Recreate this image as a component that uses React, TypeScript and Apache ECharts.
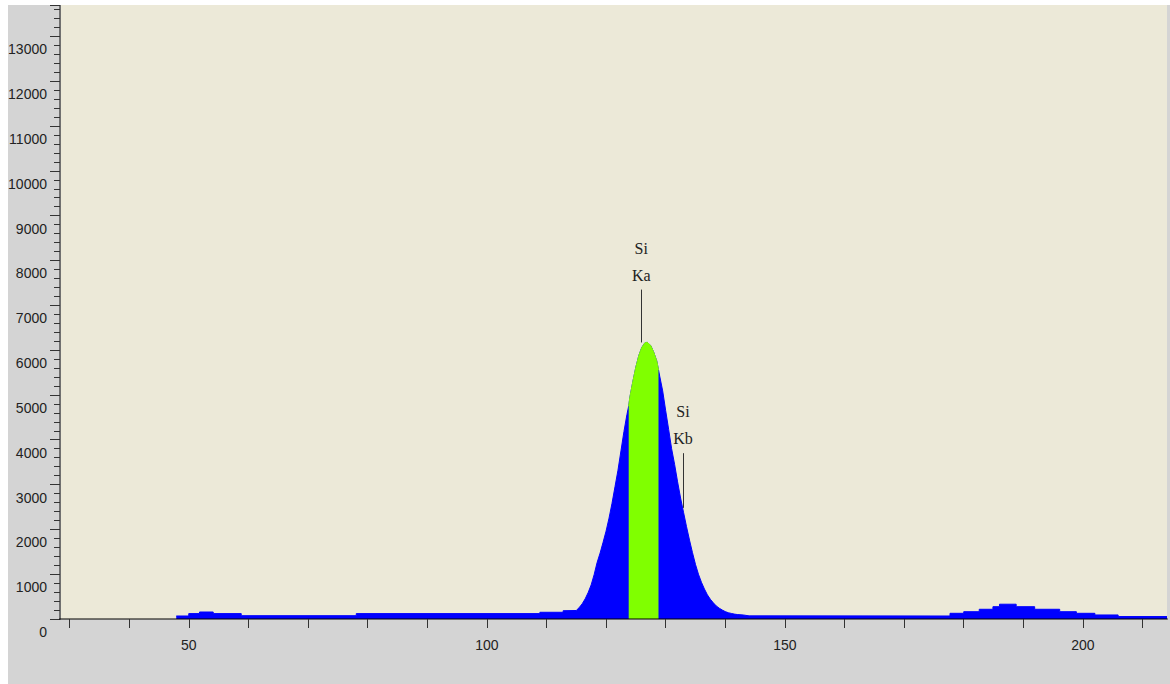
import React, { useEffect, useRef } from "react";
import * as echarts from "echarts";

// Spectrum channels (energy axis units) and counts
const energy = [
  47.9, 50.0, 50.0, 51.8, 51.8, 54.1, 54.1, 58.8, 58.8, 78.1, 78.1, 108.9, 108.9, 112.8, 112.8,
  115.0, 115.5, 116.0, 116.5, 117.0, 117.5, 118.0, 118.5, 119.0, 119.5, 120.0, 120.5, 121.0,
  121.5, 122.0, 122.5, 123.0, 123.5, 123.8, 124.0, 124.5, 125.0, 125.5, 126.0, 126.5, 126.9,
  127.5, 128.0, 128.5, 128.8, 129.0, 129.5, 130.0, 130.5, 131.0, 131.5, 132.0, 132.5, 133.0,
  133.5, 134.0, 134.5, 135.0, 135.5, 136.0, 136.5, 137.0, 137.5, 138.0, 138.5, 139.0, 139.5,
  140.0, 140.5, 141.0, 141.5, 142.0, 143.0, 144.0,
  177.7, 177.7, 180.0, 180.0, 182.6, 182.6, 184.9, 184.9, 186.0, 186.0, 188.8, 188.8, 191.9,
  191.9, 196.1, 196.1, 198.9, 198.9, 202.0, 202.0, 205.9, 205.9, 214.1,
];
const counts = [
  67, 67, 120, 120, 156, 156, 120, 120, 74, 74, 120, 120, 150, 150, 185,
  190, 255, 340, 450, 590, 760, 990, 1260, 1470, 1710, 1960, 2250, 2580,
  2950, 3320, 3750, 4180, 4560, 4750, 4950, 5300, 5620, 5880, 6060, 6160, 6175,
  6100, 5950, 5760, 5560, 5420, 5090, 4650, 4230, 3800, 3450, 3060, 2700, 2380,
  2060, 1760, 1480, 1220, 1000, 820, 670, 540, 440, 360, 290, 240, 200,
  165, 140, 125, 110, 100, 90, 70,
  67, 127, 127, 163, 163, 217, 217, 275, 275, 330, 330, 275, 275,
  217, 217, 163, 163, 127, 127, 90, 90, 55, 55,
];

// Highlighted region of interest (Si Ka window)
const roiStart = 123.8;
const roiEnd = 128.8;

// Peak markers
const peakLabels = ["Si\nKa", "Si\nKb"];
const peakEnergy = [125.9, 132.9];
const markerFrom = [6170, 2480];
const markerTo = [7350, 3700];

// Axis ticks / labels
const xTickValues = [30, 40, 50, 60, 70, 80, 90, 100, 110, 120, 130, 140, 150, 160, 170, 180, 190, 200, 210];
const xLabelValues = [50, 100, 150, 200];

const axisFont = '"Liberation Sans", Arial, sans-serif';
const serifFont = '"Liberation Serif", "DejaVu Serif", serif';

export default function App() {
  const ref = useRef<HTMLDivElement>(null);

  useEffect(() => {
    if (!ref.current) return;
    const chart = echarts.init(ref.current, undefined, { renderer: "svg" });
    const spectrum = energy.map((e, i) => [e, counts[i]]);
    const roi = spectrum.filter((p) => p[0] >= roiStart && p[0] <= roiEnd);

    chart.setOption({
      animation: false,
      backgroundColor: "#d4d4d4",
      grid: {
        left: 52,
        right: 3,
        top: 0,
        bottom: 65,
        show: true,
        backgroundColor: "#ece9d8",
        borderWidth: 0,
        containLabel: false,
        outerBoundsMode: "none",
      },
      xAxis: {
        type: "value",
        min: 28.4,
        max: 214.1,
        z: 5,
        axisLine: { show: true, lineStyle: { color: "rgba(0,0,0,0.5)", width: 2 } },
        axisTick: {
          show: true,
          length: 9,
          customValues: xTickValues,
          lineStyle: { color: "#333", width: 1 },
        },
        axisLabel: {
          customValues: xLabelValues,
          margin: 19,
          fontSize: 14,
          fontFamily: axisFont,
          color: "#222",
          formatter: (v: number) => String(v),
        },
        splitLine: { show: false },
      },
      yAxis: {
        type: "value",
        min: 0,
        max: 13700,
        interval: 1000,
        axisLine: { show: true, lineStyle: { color: "#707070", width: 2 } },
        axisTick: { show: true, length: 10, lineStyle: { color: "#333", width: 1 } },
        minorTick: { show: true, splitNumber: 5, length: 6, lineStyle: { color: "#333", width: 1 } },
        axisLabel: {
          margin: 13,
          fontSize: 14,
          lineHeight: 26,
          verticalAlign: "top",
          fontFamily: axisFont,
          color: "#222",
          showMinLabel: true,
          showMaxLabel: false,
          hideOverlap: false,
          formatter: (v: number) => String(v),
        },
        splitLine: { show: false },
      },
      series: [
        {
          type: "line",
          data: spectrum,
          symbol: "none",
          lineStyle: { color: "#0000ff", width: 1 },
          areaStyle: { color: "#0000ff", opacity: 1 },
          z: 2,
          markLine: {
            silent: true,
            symbol: ["none", "none"],
            lineStyle: { color: "#333", width: 1, type: "solid" },
            label: {
              show: true,
              position: "end",
              distance: 1,
              formatter: (p: any) => peakLabels[p.dataIndex],
              fontFamily: serifFont,
              fontSize: 16,
              lineHeight: 27,
              color: "#222",
            },
            data: peakEnergy.map((e, i) => [
              { coord: [e, markerFrom[i]] },
              { coord: [e, markerTo[i]] },
            ]),
          },
        },
        {
          type: "line",
          data: roi,
          symbol: "none",
          lineStyle: { color: "#80ff00", width: 1 },
          areaStyle: { color: "#80ff00", opacity: 1 },
          z: 3,
        },
      ],
    });
    return () => chart.dispose();
  }, []);

  return (
    <div
      ref={ref}
      style={{ position: "absolute", left: 8, top: 5, width: 1162, height: 679 }}
    />
  );
}
